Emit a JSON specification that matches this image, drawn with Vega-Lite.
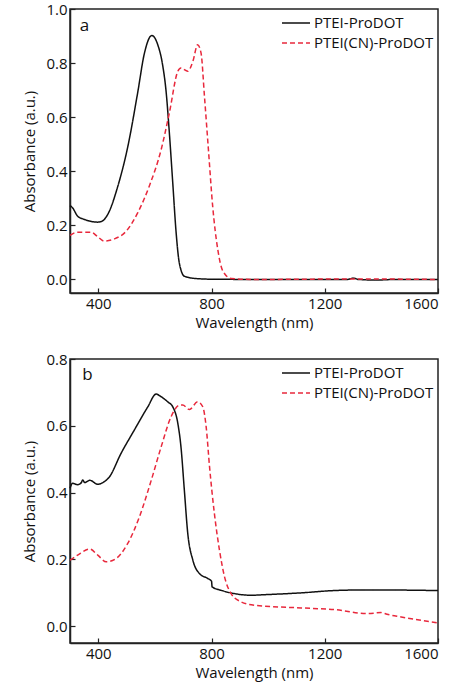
{
  "$schema": "https://vega.github.io/schema/vega-lite/v6.json",
  "autosize": {"type": "pad"},
  "padding": {"left": 22, "top": 1, "right": 5, "bottom": 2},
  "background": "white",
  "spacing": 66,
  "bounds": "flush",
  "config": {
    "font": "Open Sans",
    "view": {"stroke": "#222", "strokeWidth": 1.5},
    "axis": {
      "grid": false,
      "domainColor": "#222",
      "domainWidth": 1.5,
      "tickColor": "#222",
      "tickWidth": 1.2,
      "tickSize": -5,
      "labelFontSize": 15,
      "titleFontSize": 15,
      "titleFontWeight": "normal",
      "labelColor": "#111",
      "titleColor": "#111"
    },
    "legend": {
      "orient": "none",
      "legendX": 218,
      "legendY": 6,
      "padding": 0,
      "labelFontSize": 15,
      "labelColor": "#111",
      "symbolType": "M-2,0H2",
      "symbolSize": 196,
      "symbolStrokeWidth": 1.5,
      "labelOffset": 10,
      "rowPadding": 4,
      "title": null
    }
  },
  "datasets": {
    "spectra": [
      {"panel": "a", "series": "PTEI-ProDOT", "wl": 300, "abs": 0.273},
      {"panel": "a", "series": "PTEI-ProDOT", "wl": 309, "abs": 0.265},
      {"panel": "a", "series": "PTEI-ProDOT", "wl": 327, "abs": 0.234},
      {"panel": "a", "series": "PTEI-ProDOT", "wl": 351, "abs": 0.222},
      {"panel": "a", "series": "PTEI-ProDOT", "wl": 398, "abs": 0.212},
      {"panel": "a", "series": "PTEI-ProDOT", "wl": 412, "abs": 0.215},
      {"panel": "a", "series": "PTEI-ProDOT", "wl": 433, "abs": 0.24},
      {"panel": "a", "series": "PTEI-ProDOT", "wl": 469, "abs": 0.345},
      {"panel": "a", "series": "PTEI-ProDOT", "wl": 504, "abs": 0.49},
      {"panel": "a", "series": "PTEI-ProDOT", "wl": 539, "abs": 0.69},
      {"panel": "a", "series": "PTEI-ProDOT", "wl": 563, "abs": 0.837},
      {"panel": "a", "series": "PTEI-ProDOT", "wl": 589, "abs": 0.902},
      {"panel": "a", "series": "PTEI-ProDOT", "wl": 610, "abs": 0.868},
      {"panel": "a", "series": "PTEI-ProDOT", "wl": 628, "abs": 0.788},
      {"panel": "a", "series": "PTEI-ProDOT", "wl": 639, "abs": 0.70},
      {"panel": "a", "series": "PTEI-ProDOT", "wl": 651, "abs": 0.542},
      {"panel": "a", "series": "PTEI-ProDOT", "wl": 663, "abs": 0.357},
      {"panel": "a", "series": "PTEI-ProDOT", "wl": 675, "abs": 0.172},
      {"panel": "a", "series": "PTEI-ProDOT", "wl": 686, "abs": 0.062},
      {"panel": "a", "series": "PTEI-ProDOT", "wl": 704, "abs": 0.012},
      {"panel": "a", "series": "PTEI-ProDOT", "wl": 740, "abs": 0.004},
      {"panel": "a", "series": "PTEI-ProDOT", "wl": 800, "abs": 0.001},
      {"panel": "a", "series": "PTEI-ProDOT", "wl": 1000, "abs": 0.0},
      {"panel": "a", "series": "PTEI-ProDOT", "wl": 1280, "abs": 0.0},
      {"panel": "a", "series": "PTEI-ProDOT", "wl": 1300, "abs": 0.005},
      {"panel": "a", "series": "PTEI-ProDOT", "wl": 1320, "abs": 0.0},
      {"panel": "a", "series": "PTEI-ProDOT", "wl": 1380, "abs": -0.002},
      {"panel": "a", "series": "PTEI-ProDOT", "wl": 1450, "abs": 0.0},
      {"panel": "a", "series": "PTEI-ProDOT", "wl": 1600, "abs": 0.0},
      {"panel": "a", "series": "PTEI(CN)-ProDOT", "wl": 300, "abs": 0.163},
      {"panel": "a", "series": "PTEI(CN)-ProDOT", "wl": 327, "abs": 0.175},
      {"panel": "a", "series": "PTEI(CN)-ProDOT", "wl": 374, "abs": 0.175},
      {"panel": "a", "series": "PTEI(CN)-ProDOT", "wl": 398, "abs": 0.158},
      {"panel": "a", "series": "PTEI(CN)-ProDOT", "wl": 421, "abs": 0.142},
      {"panel": "a", "series": "PTEI(CN)-ProDOT", "wl": 457, "abs": 0.15},
      {"panel": "a", "series": "PTEI(CN)-ProDOT", "wl": 498, "abs": 0.178},
      {"panel": "a", "series": "PTEI(CN)-ProDOT", "wl": 539, "abs": 0.246},
      {"panel": "a", "series": "PTEI(CN)-ProDOT", "wl": 580, "abs": 0.345},
      {"panel": "a", "series": "PTEI(CN)-ProDOT", "wl": 622, "abs": 0.48},
      {"panel": "a", "series": "PTEI(CN)-ProDOT", "wl": 651, "abs": 0.616},
      {"panel": "a", "series": "PTEI(CN)-ProDOT", "wl": 681, "abs": 0.77},
      {"panel": "a", "series": "PTEI(CN)-ProDOT", "wl": 692, "abs": 0.782},
      {"panel": "a", "series": "PTEI(CN)-ProDOT", "wl": 716, "abs": 0.77},
      {"panel": "a", "series": "PTEI(CN)-ProDOT", "wl": 734, "abs": 0.806},
      {"panel": "a", "series": "PTEI(CN)-ProDOT", "wl": 751, "abs": 0.868},
      {"panel": "a", "series": "PTEI(CN)-ProDOT", "wl": 763, "abs": 0.837},
      {"panel": "a", "series": "PTEI(CN)-ProDOT", "wl": 775, "abs": 0.677},
      {"panel": "a", "series": "PTEI(CN)-ProDOT", "wl": 789, "abs": 0.48},
      {"panel": "a", "series": "PTEI(CN)-ProDOT", "wl": 804, "abs": 0.271},
      {"panel": "a", "series": "PTEI(CN)-ProDOT", "wl": 822, "abs": 0.111},
      {"panel": "a", "series": "PTEI(CN)-ProDOT", "wl": 840, "abs": 0.031},
      {"panel": "a", "series": "PTEI(CN)-ProDOT", "wl": 869, "abs": 0.004},
      {"panel": "a", "series": "PTEI(CN)-ProDOT", "wl": 950, "abs": 0.0},
      {"panel": "a", "series": "PTEI(CN)-ProDOT", "wl": 1300, "abs": 0.002},
      {"panel": "a", "series": "PTEI(CN)-ProDOT", "wl": 1600, "abs": 0.0},
      {"panel": "b", "series": "PTEI-ProDOT", "wl": 300, "abs": 0.413},
      {"panel": "b", "series": "PTEI-ProDOT", "wl": 309, "abs": 0.428},
      {"panel": "b", "series": "PTEI-ProDOT", "wl": 327, "abs": 0.424},
      {"panel": "b", "series": "PTEI-ProDOT", "wl": 340, "abs": 0.43},
      {"panel": "b", "series": "PTEI-ProDOT", "wl": 345, "abs": 0.438},
      {"panel": "b", "series": "PTEI-ProDOT", "wl": 352, "abs": 0.43},
      {"panel": "b", "series": "PTEI-ProDOT", "wl": 370, "abs": 0.437},
      {"panel": "b", "series": "PTEI-ProDOT", "wl": 398, "abs": 0.425},
      {"panel": "b", "series": "PTEI-ProDOT", "wl": 416, "abs": 0.43},
      {"panel": "b", "series": "PTEI-ProDOT", "wl": 439, "abs": 0.447},
      {"panel": "b", "series": "PTEI-ProDOT", "wl": 480, "abs": 0.517},
      {"panel": "b", "series": "PTEI-ProDOT", "wl": 527, "abs": 0.587},
      {"panel": "b", "series": "PTEI-ProDOT", "wl": 575, "abs": 0.657},
      {"panel": "b", "series": "PTEI-ProDOT", "wl": 604, "abs": 0.695},
      {"panel": "b", "series": "PTEI-ProDOT", "wl": 622, "abs": 0.687},
      {"panel": "b", "series": "PTEI-ProDOT", "wl": 645, "abs": 0.672},
      {"panel": "b", "series": "PTEI-ProDOT", "wl": 663, "abs": 0.657},
      {"panel": "b", "series": "PTEI-ProDOT", "wl": 681, "abs": 0.607},
      {"panel": "b", "series": "PTEI-ProDOT", "wl": 692, "abs": 0.537},
      {"panel": "b", "series": "PTEI-ProDOT", "wl": 704, "abs": 0.407},
      {"panel": "b", "series": "PTEI-ProDOT", "wl": 716, "abs": 0.278},
      {"panel": "b", "series": "PTEI-ProDOT", "wl": 734, "abs": 0.198},
      {"panel": "b", "series": "PTEI-ProDOT", "wl": 757, "abs": 0.158},
      {"panel": "b", "series": "PTEI-ProDOT", "wl": 787, "abs": 0.143},
      {"panel": "b", "series": "PTEI-ProDOT", "wl": 800, "abs": 0.135},
      {"panel": "b", "series": "PTEI-ProDOT", "wl": 802, "abs": 0.118},
      {"panel": "b", "series": "PTEI-ProDOT", "wl": 833, "abs": 0.108},
      {"panel": "b", "series": "PTEI-ProDOT", "wl": 880, "abs": 0.098},
      {"panel": "b", "series": "PTEI-ProDOT", "wl": 939, "abs": 0.093},
      {"panel": "b", "series": "PTEI-ProDOT", "wl": 998, "abs": 0.095},
      {"panel": "b", "series": "PTEI-ProDOT", "wl": 1116, "abs": 0.10},
      {"panel": "b", "series": "PTEI-ProDOT", "wl": 1234, "abs": 0.107},
      {"panel": "b", "series": "PTEI-ProDOT", "wl": 1352, "abs": 0.109},
      {"panel": "b", "series": "PTEI-ProDOT", "wl": 1600, "abs": 0.107},
      {"panel": "b", "series": "PTEI(CN)-ProDOT", "wl": 300, "abs": 0.198},
      {"panel": "b", "series": "PTEI(CN)-ProDOT", "wl": 327, "abs": 0.213},
      {"panel": "b", "series": "PTEI(CN)-ProDOT", "wl": 370, "abs": 0.231},
      {"panel": "b", "series": "PTEI(CN)-ProDOT", "wl": 398, "abs": 0.213},
      {"panel": "b", "series": "PTEI(CN)-ProDOT", "wl": 428, "abs": 0.193},
      {"panel": "b", "series": "PTEI(CN)-ProDOT", "wl": 463, "abs": 0.203},
      {"panel": "b", "series": "PTEI(CN)-ProDOT", "wl": 504, "abs": 0.248},
      {"panel": "b", "series": "PTEI(CN)-ProDOT", "wl": 545, "abs": 0.327},
      {"panel": "b", "series": "PTEI(CN)-ProDOT", "wl": 587, "abs": 0.437},
      {"panel": "b", "series": "PTEI(CN)-ProDOT", "wl": 622, "abs": 0.537},
      {"panel": "b", "series": "PTEI(CN)-ProDOT", "wl": 657, "abs": 0.627},
      {"panel": "b", "series": "PTEI(CN)-ProDOT", "wl": 687, "abs": 0.662},
      {"panel": "b", "series": "PTEI(CN)-ProDOT", "wl": 698, "abs": 0.662},
      {"panel": "b", "series": "PTEI(CN)-ProDOT", "wl": 722, "abs": 0.649},
      {"panel": "b", "series": "PTEI(CN)-ProDOT", "wl": 751, "abs": 0.672},
      {"panel": "b", "series": "PTEI(CN)-ProDOT", "wl": 769, "abs": 0.657},
      {"panel": "b", "series": "PTEI(CN)-ProDOT", "wl": 781, "abs": 0.597},
      {"panel": "b", "series": "PTEI(CN)-ProDOT", "wl": 793, "abs": 0.477},
      {"panel": "b", "series": "PTEI(CN)-ProDOT", "wl": 810, "abs": 0.338},
      {"panel": "b", "series": "PTEI(CN)-ProDOT", "wl": 828, "abs": 0.228},
      {"panel": "b", "series": "PTEI(CN)-ProDOT", "wl": 846, "abs": 0.148},
      {"panel": "b", "series": "PTEI(CN)-ProDOT", "wl": 869, "abs": 0.098},
      {"panel": "b", "series": "PTEI(CN)-ProDOT", "wl": 905, "abs": 0.073},
      {"panel": "b", "series": "PTEI(CN)-ProDOT", "wl": 952, "abs": 0.063},
      {"panel": "b", "series": "PTEI(CN)-ProDOT", "wl": 1116, "abs": 0.055},
      {"panel": "b", "series": "PTEI(CN)-ProDOT", "wl": 1234, "abs": 0.05},
      {"panel": "b", "series": "PTEI(CN)-ProDOT", "wl": 1352, "abs": 0.038},
      {"panel": "b", "series": "PTEI(CN)-ProDOT", "wl": 1399, "abs": 0.041},
      {"panel": "b", "series": "PTEI(CN)-ProDOT", "wl": 1420, "abs": 0.036},
      {"panel": "b", "series": "PTEI(CN)-ProDOT", "wl": 1470, "abs": 0.028},
      {"panel": "b", "series": "PTEI(CN)-ProDOT", "wl": 1600, "abs": 0.01}
    ]
  },
  "resolve": {"legend": {"color": "independent", "strokeDash": "independent"}},
  "vconcat": [
    {
      "width": 368,
      "height": 284,
      "layer": [
        {
          "data": {"name": "spectra"},
          "transform": [{"filter": "datum.panel === 'a'"}],
          "mark": {"type": "line", "strokeWidth": 1.5, "interpolate": "monotone"},
          "encoding": {
            "x": {"field": "wl", "type": "quantitative", "title": "Wavelength (nm)",
                  "scale": {"domain": [300, 1600], "nice": false, "zero": false},
                  "axis": {"values": [400, 800, 1200, 1600], "format": "d", "labelPadding": 8, "titlePadding": 4}},
            "y": {"field": "abs", "type": "quantitative", "title": "Absorbance (a.u.)",
                  "scale": {"domain": [-0.05, 1.0], "nice": false, "zero": false},
                  "axis": {"values": [0, 0.2, 0.4, 0.6, 0.8, 1.0], "format": ".1f", "labelPadding": 8, "titlePadding": 8}},
            "color": {"field": "series", "type": "nominal",
                      "scale": {"domain": ["PTEI-ProDOT", "PTEI(CN)-ProDOT"], "range": ["#111111", "#e8283c"]},
                      "legend": {"title": null}},
            "strokeDash": {"field": "series", "type": "nominal",
                      "scale": {"domain": ["PTEI-ProDOT", "PTEI(CN)-ProDOT"], "range": [[1, 0], [5, 3]]},
                      "legend": {"title": null}},
            "order": {"field": "wl", "type": "quantitative"}
          }
        },
        {
          "data": {"values": [{"label": "a", "wl": 351, "abs": 0.936}]},
          "mark": {"type": "text", "fontSize": 17, "color": "#111", "font": "Open Sans"},
          "encoding": {
            "x": {"field": "wl", "type": "quantitative"},
            "y": {"field": "abs", "type": "quantitative"},
            "text": {"field": "label"}
          }
        }
      ]
    },
    {
      "width": 368,
      "height": 284,
      "layer": [
        {
          "data": {"name": "spectra"},
          "transform": [{"filter": "datum.panel === 'b'"}],
          "mark": {"type": "line", "strokeWidth": 1.5, "interpolate": "monotone"},
          "encoding": {
            "x": {"field": "wl", "type": "quantitative", "title": "Wavelength (nm)",
                  "scale": {"domain": [300, 1600], "nice": false, "zero": false},
                  "axis": {"values": [400, 800, 1200, 1600], "format": "d", "labelPadding": 8, "titlePadding": 4}},
            "y": {"field": "abs", "type": "quantitative", "title": "Absorbance (a.u.)",
                  "scale": {"domain": [-0.05, 0.8], "nice": false, "zero": false},
                  "axis": {"values": [0, 0.2, 0.4, 0.6, 0.8], "format": ".1f", "labelPadding": 8, "titlePadding": 8}},
            "color": {"field": "series", "type": "nominal",
                      "scale": {"domain": ["PTEI-ProDOT", "PTEI(CN)-ProDOT"], "range": ["#111111", "#e8283c"]},
                      "legend": {"title": null}},
            "strokeDash": {"field": "series", "type": "nominal",
                      "scale": {"domain": ["PTEI-ProDOT", "PTEI(CN)-ProDOT"], "range": [[1, 0], [5, 3]]},
                      "legend": {"title": null}},
            "order": {"field": "wl", "type": "quantitative"}
          }
        },
        {
          "data": {"values": [{"label": "b", "wl": 362, "abs": 0.752}]},
          "mark": {"type": "text", "fontSize": 17, "color": "#111", "font": "Open Sans"},
          "encoding": {
            "x": {"field": "wl", "type": "quantitative"},
            "y": {"field": "abs", "type": "quantitative"},
            "text": {"field": "label"}
          }
        }
      ]
    }
  ]
}
